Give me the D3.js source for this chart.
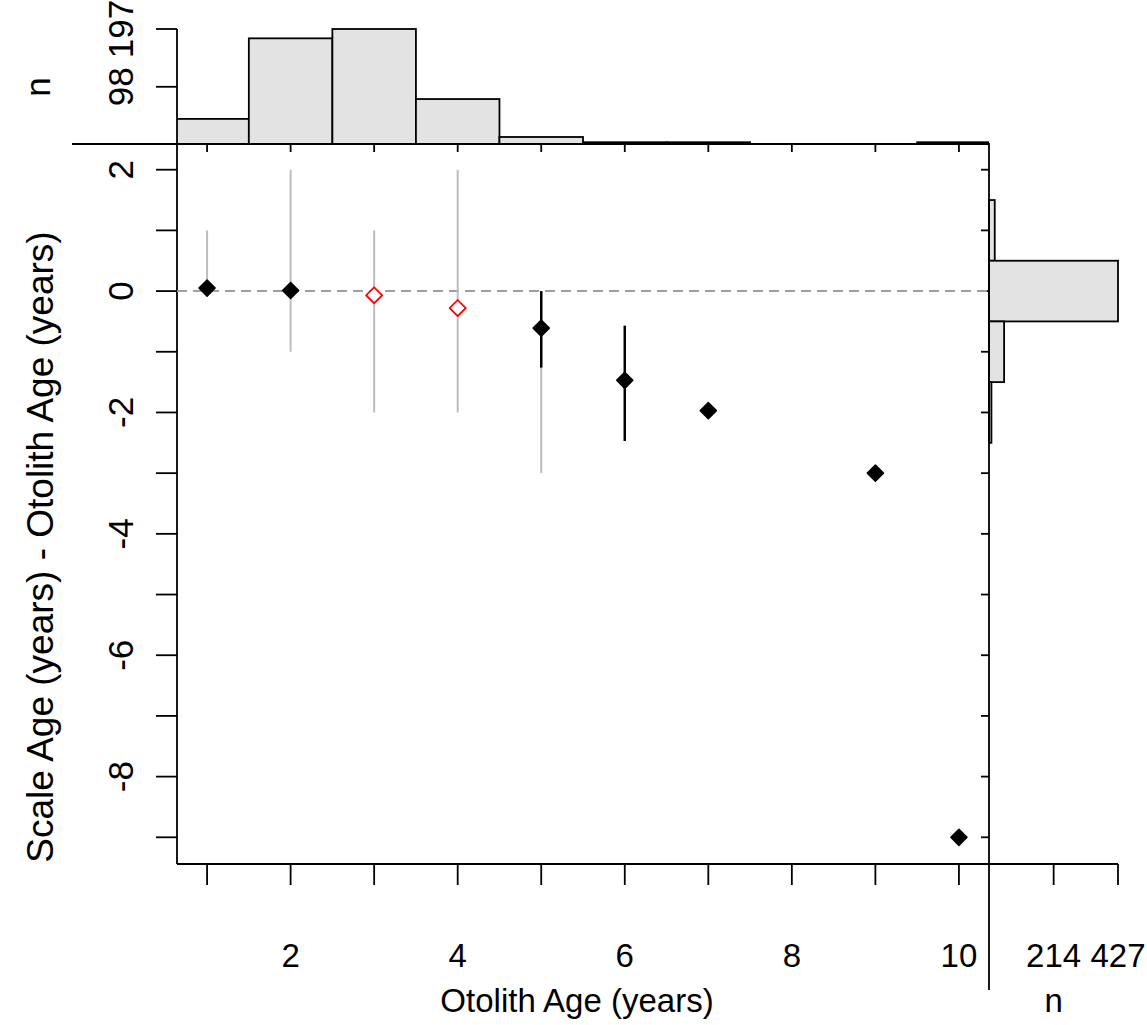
<!DOCTYPE html>
<html>
<head>
<meta charset="utf-8">
<script src="https://cdn.jsdelivr.net/npm/d3@7"></script>
<style>
  body { margin: 0; background: #fff; }
  text { font-family: "Liberation Sans", Arial, sans-serif; fill: #000; }
</style>
</head>
<body>
<svg></svg>
<script>
// ---- data ----
const ages = [1, 2, 3, 4, 5, 6, 7, 9, 10];
const meanDiff = [0.05, 0.01, -0.07, -0.28, -0.61, -1.47, -1.97, -3.0, -9.0];
const signif = [true, true, false, false, true, true, true, true, true];
// gray ranges (null = none drawn)
const rangeLo = [0, -1, -2, -2, -3, null, null, null, null];
const rangeHi = [1, 2, 1, 2, 0, null, null, null, null];
// black confidence intervals
const ciLo = [null, null, null, null, -1.26, -2.47, null, null, null];
const ciHi = [null, null, null, null, 0.0, -0.57, null, null, null];

// top histogram: otolith age counts
const histAges = [1, 2, 3, 4, 5, 6, 7, 8, 9, 10];
const histAgeN = [43, 181, 197, 77, 12, 3, 3, 0, 0, 3];
// right histogram: difference counts
const histDiffs = [2, 1, 0, -1, -2, -3, -4, -5, -6, -7, -8, -9];
const histDiffN = [0, 19, 427, 50, 8, 0, 0, 0, 0, 0, 0, 0];

const xTicks = [1, 2, 3, 4, 5, 6, 7, 8, 9, 10];
const xLabels = [2, 4, 6, 8, 10];
const yTicks = d3.range(-9, 3);
const yLabels = [2, 0, -2, -4, -6, -8];
const topTicks = [98, 197];
const rightTicks = [214, 427];

const width = 1147, height = 1025;
const svg = d3.select("svg").attr("width", width).attr("height", height);

const pLeft = 177, pRight = 989, pTop = 143, pBottom = 864;

const x = d3.scaleLinear().domain([0.64, 10.36]).range([pLeft, pRight]);
const y = d3.scaleLinear().domain([-9.44, 2.44]).range([pBottom, pTop]);
const yTop = d3.scaleLinear().domain([0, 197]).range([pTop + 1, 29]);
const xRight = d3.scaleLinear().domain([0, 427]).range([pRight, 1118]);

const fontSize = 33;

// clip paths so histogram bars stay in their panels
const defs = svg.append("defs");
defs.append("clipPath").attr("id", "clipTop")
  .append("rect").attr("x", pLeft).attr("y", 0).attr("width", pRight - pLeft).attr("height", pTop + 2);
defs.append("clipPath").attr("id", "clipRight")
  .append("rect").attr("x", pRight - 2).attr("y", pTop).attr("width", 200).attr("height", pBottom - pTop);

// top histogram
svg.append("g").attr("clip-path", "url(#clipTop)")
  .selectAll("rect")
  .data(histAges.map((a, i) => ({ a, n: histAgeN[i] })).filter(d => d.n > 0))
  .join("rect")
  .attr("x", d => x(d.a - 0.5))
  .attr("width", d => x(d.a + 0.5) - x(d.a - 0.5))
  .attr("y", d => yTop(d.n))
  .attr("height", d => yTop(0) - yTop(d.n))
  .attr("fill", "#e3e3e3")
  .attr("stroke", "#000")
  .attr("stroke-width", 1.8);

// right histogram
svg.append("g").attr("clip-path", "url(#clipRight)")
  .selectAll("rect")
  .data(histDiffs.map((v, i) => ({ v, n: histDiffN[i] })).filter(d => d.n > 0))
  .join("rect")
  .attr("x", xRight(0))
  .attr("width", d => xRight(d.n) - xRight(0))
  .attr("y", d => y(d.v + 0.5))
  .attr("height", d => y(d.v - 0.5) - y(d.v + 0.5))
  .attr("fill", "#e3e3e3")
  .attr("stroke", "#000")
  .attr("stroke-width", 1.8);

// frame lines
const line = (x1, y1, x2, y2, w) => svg.append("line")
  .attr("x1", x1).attr("y1", y1).attr("x2", x2).attr("y2", y2)
  .attr("stroke", "#000").attr("stroke-width", w || 1.8);

line(72, pTop + 1, pRight, pTop + 1);           // top hist baseline
line(pLeft, yTop(197), pLeft, pBottom);          // left axis (both panels)
line(pLeft, pBottom, xRight(427), pBottom);      // bottom axis (both panels)
line(pRight, pTop, pRight, 990);                 // right hist baseline

// ticks: main x axis
svg.append("g").selectAll("line").data(xTicks).join("line")
  .attr("x1", d => x(d)).attr("x2", d => x(d))
  .attr("y1", pBottom).attr("y2", pBottom + 21)
  .attr("stroke", "#000").attr("stroke-width", 1.8);
// ticks: top hist baseline (pointing down)
svg.append("g").selectAll("line").data(xTicks).join("line")
  .attr("x1", d => x(d)).attr("x2", d => x(d))
  .attr("y1", pTop + 1).attr("y2", pTop + 9)
  .attr("stroke", "#000").attr("stroke-width", 1.8);
// ticks: main y axis
svg.append("g").selectAll("line").data(yTicks).join("line")
  .attr("y1", d => y(d)).attr("y2", d => y(d))
  .attr("x1", pLeft - 21).attr("x2", pLeft)
  .attr("stroke", "#000").attr("stroke-width", 1.8);
// ticks: right hist baseline (pointing left)
svg.append("g").selectAll("line").data(yTicks).join("line")
  .attr("y1", d => y(d)).attr("y2", d => y(d))
  .attr("x1", pRight - 8).attr("x2", pRight)
  .attr("stroke", "#000").attr("stroke-width", 1.8);
// ticks: top hist counts
svg.append("g").selectAll("line").data(topTicks).join("line")
  .attr("y1", d => yTop(d)).attr("y2", d => yTop(d))
  .attr("x1", pLeft - 21).attr("x2", pLeft)
  .attr("stroke", "#000").attr("stroke-width", 1.8);
// ticks: right hist counts
svg.append("g").selectAll("line").data(rightTicks).join("line")
  .attr("x1", d => xRight(d)).attr("x2", d => xRight(d))
  .attr("y1", pBottom).attr("y2", pBottom + 21)
  .attr("stroke", "#000").attr("stroke-width", 1.8);

// tick labels
svg.append("g").selectAll("text").data(xLabels).join("text")
  .attr("x", d => x(d)).attr("y", 967)
  .attr("text-anchor", "middle").attr("font-size", fontSize)
  .text(d => d);
svg.append("g").selectAll("text").data(rightTicks).join("text")
  .attr("x", d => xRight(d)).attr("y", 967)
  .attr("text-anchor", "middle").attr("font-size", fontSize)
  .text(d => d);
svg.append("g").selectAll("text").data(yLabels).join("text")
  .attr("transform", d => `translate(133,${y(d)}) rotate(-90)`)
  .attr("text-anchor", "middle").attr("font-size", 35)
  .text(d => d);
svg.append("g").selectAll("text").data(topTicks).join("text")
  .attr("transform", d => `translate(133,${yTop(d)}) rotate(-90)`)
  .attr("text-anchor", "middle").attr("font-size", 35)
  .text(d => d);

// axis titles
svg.append("text").attr("x", 577).attr("y", 1012)
  .attr("text-anchor", "middle").attr("font-size", fontSize)
  .text("Otolith Age (years)");
svg.append("text").attr("x", xRight(214)).attr("y", 1012)
  .attr("text-anchor", "middle").attr("font-size", fontSize)
  .text("n");
svg.append("text").attr("transform", `translate(53,547) rotate(-90)`)
  .attr("text-anchor", "middle").attr("font-size", 37)
  .text("Scale Age (years) - Otolith Age (years)");
svg.append("text").attr("transform", `translate(50,87) rotate(-90)`)
  .attr("text-anchor", "middle").attr("font-size", 35)
  .text("n");

// reference line at zero
svg.append("line")
  .attr("x1", pLeft).attr("x2", pRight).attr("y1", y(0)).attr("y2", y(0))
  .attr("stroke", "#a0a0a0").attr("stroke-width", 2)
  .attr("stroke-dasharray", "10,6");

const pts = ages.map((a, i) => ({
  a, m: meanDiff[i], sig: signif[i],
  rlo: rangeLo[i], rhi: rangeHi[i], clo: ciLo[i], chi: ciHi[i]
}));

// ranges
svg.append("g").selectAll("line").data(pts.filter(d => d.rlo !== null)).join("line")
  .attr("x1", d => x(d.a)).attr("x2", d => x(d.a))
  .attr("y1", d => y(d.rhi)).attr("y2", d => y(d.rlo))
  .attr("stroke", "#bdbdbd").attr("stroke-width", 2);
// confidence intervals
svg.append("g").selectAll("line").data(pts.filter(d => d.clo !== null)).join("line")
  .attr("x1", d => x(d.a)).attr("x2", d => x(d.a))
  .attr("y1", d => y(d.chi)).attr("y2", d => y(d.clo))
  .attr("stroke", "#000").attr("stroke-width", 2.5);

// mean points (diamonds)
const diamond = d3.symbol().type(d3.symbolSquare).size(130);
svg.append("g").selectAll("path").data(pts).join("path")
  .attr("d", diamond)
  .attr("transform", d => `translate(${x(d.a)},${y(d.m)}) rotate(45)`)
  .attr("fill", d => d.sig ? "#000" : "#fff")
  .attr("stroke", d => d.sig ? "#000" : "#ff0000")
  .attr("stroke-width", d => d.sig ? 1.5 : 1.8)
  .attr("stroke-linejoin", "round");
</script>
</body>
</html>
